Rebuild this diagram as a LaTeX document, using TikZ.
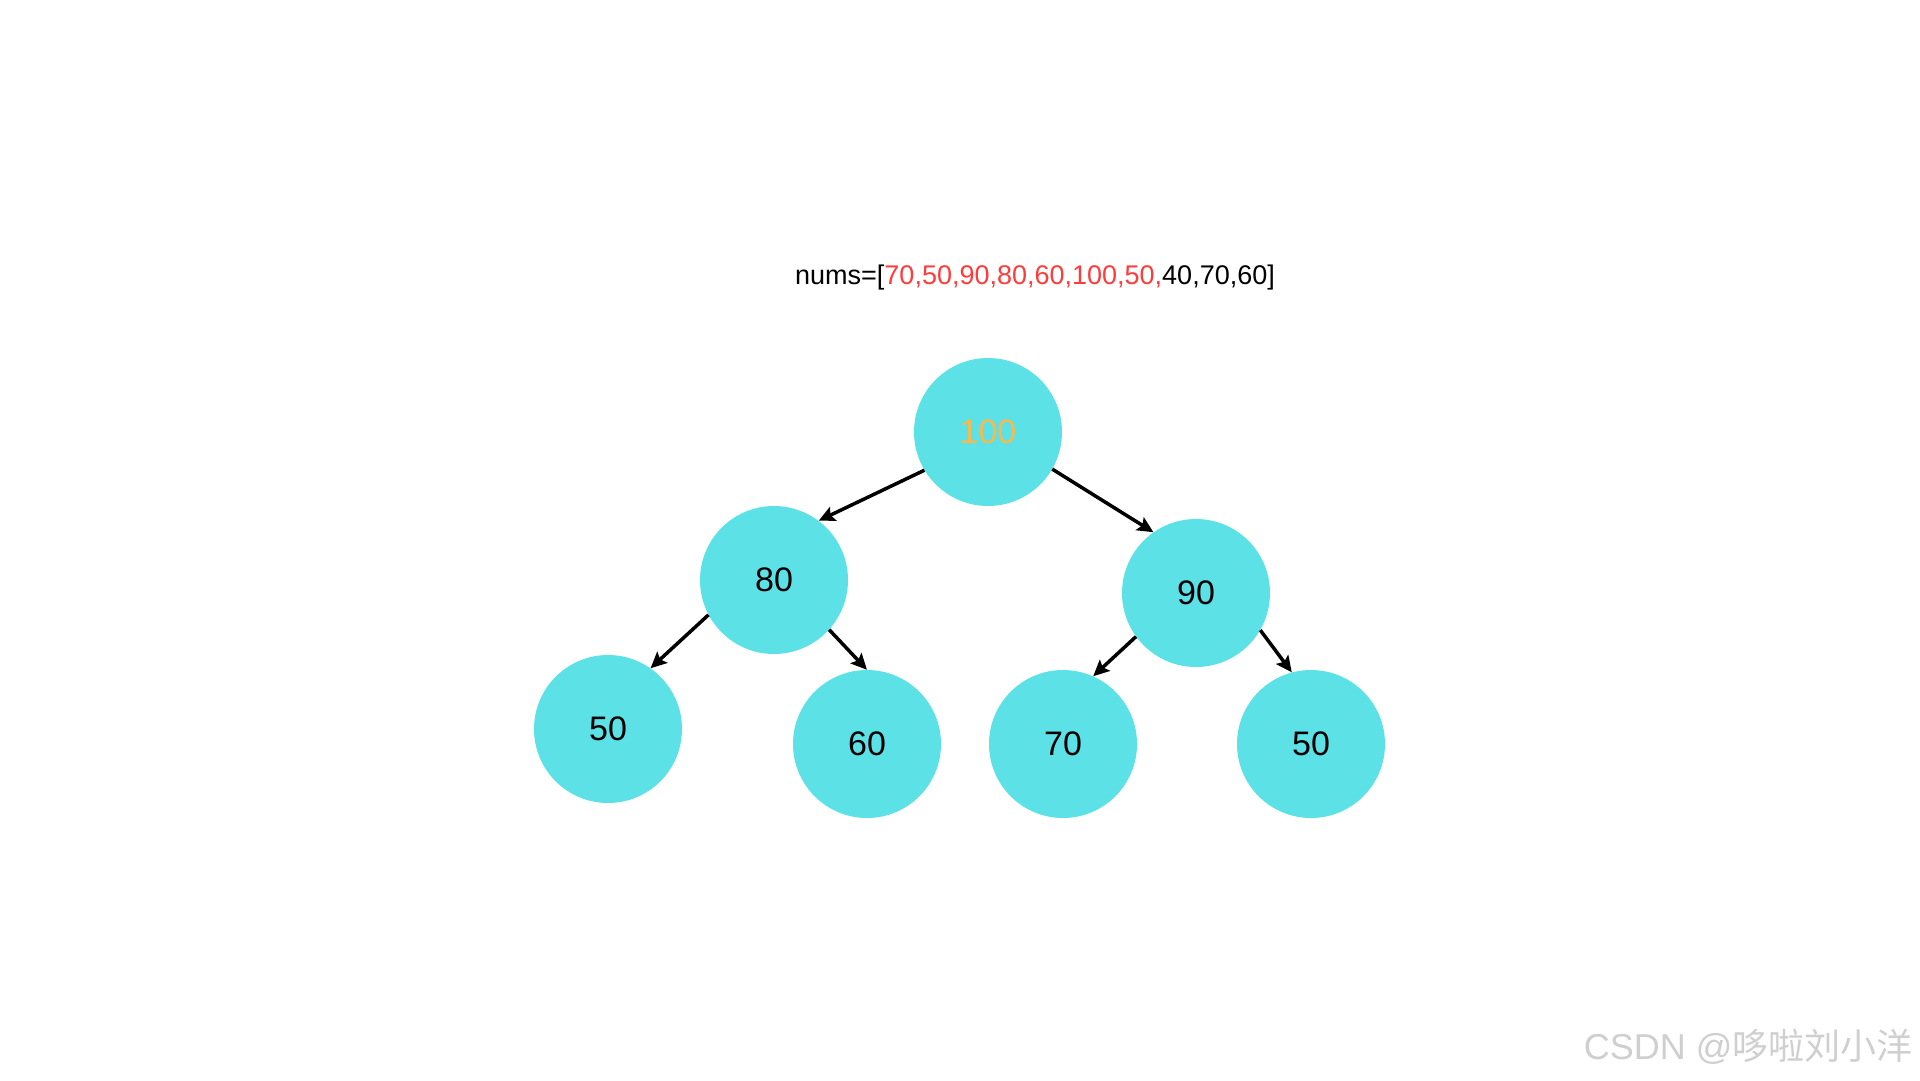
\documentclass[tikz,border=0pt]{standalone}
\usepackage{fontspec}
\setmainfont{Liberation Sans}
\newfontfamily\cjk{Noto Sans CJK SC}
\usetikzlibrary{arrows.meta,positioning}
\definecolor{heapcyan}{HTML}{5CE1E6}
\definecolor{numred}{HTML}{FF3B3B}
\definecolor{toporange}{HTML}{F8B94C}
\definecolor{markgray}{HTML}{CFCFCF}
\tikzstyle{heapnode}=[circle,fill=heapcyan,draw=none,inner sep=0pt,minimum size=148pt,
  font=\fontsize{34}{40}\selectfont]
\tikzstyle{topnode}=[heapnode,text=toporange]
\tikzstyle{link}=[line width=3.5pt,-{Stealth[length=16pt,width=15pt,inset=3pt]}]

\begin{document}
\begin{tikzpicture}[x=1pt,y=-1pt]
\useasboundingbox (0,0) rectangle (1920,1080);
        \node[font=\fontsize{27}{32}\selectfont] (nums) at (1035,278)
          {nums=[\textcolor{numred}{70,50,90,80,60,100,50,}40,70,60]};
        \node[topnode] (r) at (988,432) {100};
        \foreach \n/\x/\y/\v in {l/774/580/80, rr/1196/593/90, ll/608/729/50,
                                 lr/867/744/60, rl/1063/744/70, rrr/1311/744/50}{
          \node[heapnode] (\n) at (\x,\y) {\v};
        }
        \foreach \a/\s/\b/\t in {r/211/l/53, r/-30/rr/125, l/208/ll/55,
                                 l/-42/lr/90, rr/216/rl/66, rr/-30/rrr/105}
          \draw [link] (\a.\s) -- (\b.\t);
        \node[text=markgray,font=\fontsize{36}{42}\selectfont,anchor=east] (mark) at (1916,1047)
          {CSDN @{\cjk 哆啦刘小洋}};
      \end{tikzpicture}
\end{document}
